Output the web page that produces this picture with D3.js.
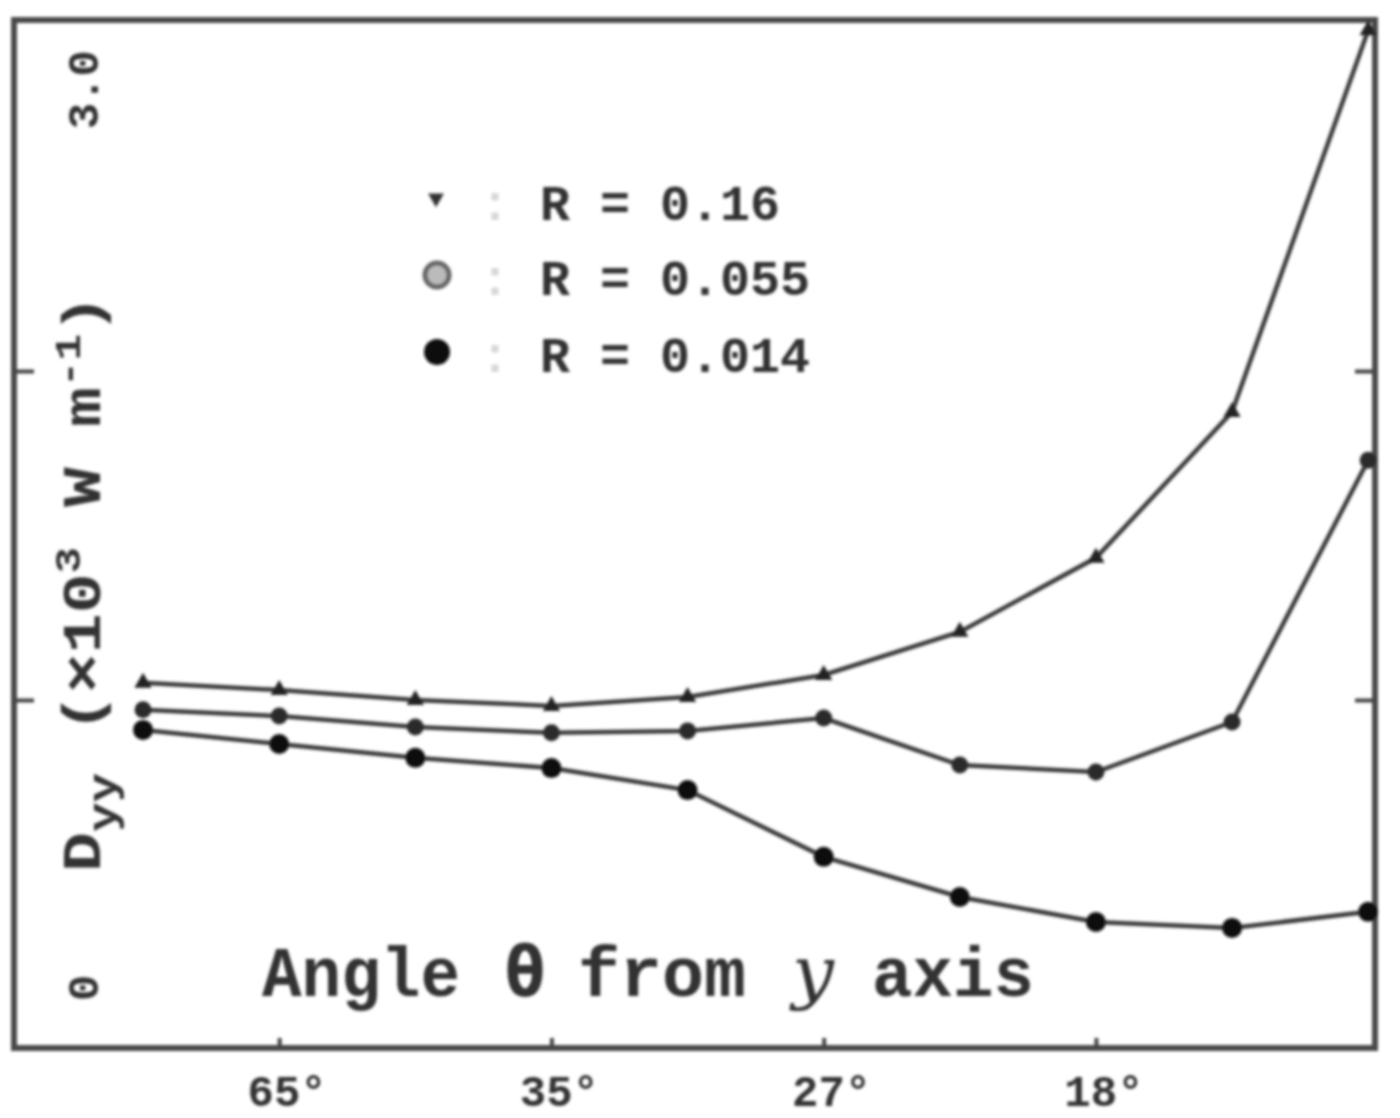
<!DOCTYPE html>
<html><head><meta charset="utf-8">
<script src="https://cdn.jsdelivr.net/npm/d3@7"></script>
<style>body{margin:0;background:#fff}</style>
</head><body>
<svg id="c" width="1400" height="1118"></svg>
<script>
// ---- data ----
const pointIndex = [0,1,2,3,4,5,6,7,8,9];
const angleTickIndex = [1,3,5,7];
const angleTickLabels = ["65°","35°","27°","18°"];
const yTickValues = [0,1,2,3];
const yTickLabels = ["0","","","3.0"];
const seriesR016  = [1.052,1.030,1.000,0.982,1.009,1.076,1.207,1.432,1.875,3.036];
const seriesR0055 = [0.970,0.951,0.918,0.900,0.906,0.945,0.802,0.781,0.933,1.729];
const seriesR0014 = [0.909,0.866,0.824,0.793,0.726,0.523,0.401,0.325,0.307,0.356];
const legendLabels = ["R = 0.16","R = 0.055","R = 0.014"];
const xAxisTitleWords = ["Angle","θ","from","y","axis"];

const svg = d3.select("#c");
const defs = svg.append("defs");
defs.append("filter").attr("id","blur").append("feGaussianBlur").attr("stdDeviation",1.6);
const g = svg.append("g").attr("filter","url(#blur)");

const L=14, R=1375, T=20, B=1048;
const x = d3.scaleLinear().domain([-0.948, 9.05]).range([L, R]);
const y = d3.scaleLinear().domain([-0.058, 3.067]).range([B, T]);

const ink = "#333";
const mono = "'Liberation Mono', 'DejaVu Sans Mono', monospace";

// frame
g.append("rect").attr("x",L).attr("y",T).attr("width",R-L).attr("height",B-T)
  .attr("fill","none").attr("stroke","#4a4a4a").attr("stroke-width",6);

// y ticks (inward) left & right
const yl = g.append("g").attr("transform",`translate(${L},0)`)
  .call(d3.axisRight(y).tickValues([1,2]).tickSize(20).tickFormat(""));
const yr = g.append("g").attr("transform",`translate(${R},0)`)
  .call(d3.axisLeft(y).tickValues([1,2]).tickSize(20).tickFormat(""));
// x ticks (inward) bottom
const xb = g.append("g").attr("transform",`translate(0,${B})`)
  .call(d3.axisTop(x).tickValues(angleTickIndex).tickSize(10).tickFormat(""));
[yl,yr,xb].forEach(a=>{a.select(".domain").remove();a.selectAll("line").attr("stroke","#444").attr("stroke-width",4);});

// x tick labels
g.selectAll("text.xt").data(angleTickIndex).enter().append("text")
  .attr("x",d=>x(d)+8).attr("y",1106).attr("text-anchor","middle")
  .attr("font-family",mono).attr("font-weight","bold").attr("font-size",44).attr("fill",ink)
  .text((d,i)=>angleTickLabels[i]);

// y tick labels (rotated)
yTickValues.forEach((v,i)=>{
  if(!yTickLabels[i]) return;
  g.append("text").attr("transform",`translate(98,${v===0? y(v)-28 : y(v)+8})rotate(-90)`)
    .attr("text-anchor", v===0 ? "start" : "end")
    .attr("font-family",mono).attr("font-weight","bold").attr("font-size",44).attr("fill",ink)
    .text(yTickLabels[i]);
});

// y axis title (rotated)
const yt = g.append("text").attr("transform","translate(100,872)rotate(-90)")
  .attr("font-family",mono).attr("font-weight","bold").attr("font-size",54).attr("fill",ink);
yt.append("tspan").text("D");
yt.append("tspan").attr("dy",16).attr("font-size",40).text("yy");
yt.append("tspan").attr("dy",-16).text(" (×10");
yt.append("tspan").attr("dy",-20).attr("font-size",36).text("3");
yt.append("tspan").attr("dy",20).text(" W m");
yt.append("tspan").attr("dy",-20).attr("font-size",36).text("-1");
yt.append("tspan").attr("dy",20).text(")");
yt.attr("textLength",578).attr("lengthAdjust","spacingAndGlyphs");

// x axis title (inside plot), one word per text
const wordPos = [[262,198],[505,40],[578,168],[792,42],[872,162]];
xAxisTitleWords.forEach((w,i)=>{
  const t = g.append("text").attr("x",wordPos[i][0]).attr("y",996)
    .attr("font-size",70).attr("fill",ink)
    .attr("textLength",wordPos[i][1]).attr("lengthAdjust","spacingAndGlyphs")
    .text(w);
  if(w==="y") t.attr("font-family","'DejaVu Serif', serif").attr("font-style","italic");
  else if(w==="θ") t.attr("font-family","'DejaVu Sans', sans-serif").attr("font-weight","bold");
  else t.attr("font-family",mono).attr("font-weight","bold");
});

// series
const series = [
  {vals:seriesR016, shape:"tri"},
  {vals:seriesR0055, shape:"circ"},
  {vals:seriesR0014, shape:"dot"}
];
const line = d3.line().x((d,i)=>x(pointIndex[i])).y(d=>y(d));
series.forEach(s=>{
  g.append("path").datum(s.vals).attr("d",line).attr("fill","none")
    .attr("stroke","#3a3a3a").attr("stroke-width",4.5);
});
series.forEach(s=>{
  const pts = s.vals.map((v,i)=>[x(pointIndex[i]), y(v)]);
  if(s.shape==="tri"){
    g.selectAll(null).data(pts).enter().append("path")
      .attr("d",d3.symbol().type(d3.symbolTriangle).size(130))
      .attr("transform",d=>`translate(${d[0]},${d[1]})`).attr("fill","#222");
  } else {
    g.selectAll(null).data(pts).enter().append("circle")
      .attr("cx",d=>d[0]).attr("cy",d=>d[1]).attr("r", s.shape==="dot"?10:8.5)
      .attr("fill", s.shape==="dot"?"#111":"#2a2a2a");
  }
});

// legend
const legBase = [220, 295, 372];
legendLabels.forEach((lab,i)=>{
  const cy = legBase[i]-20;
  if(i===0){
    g.append("path").attr("d",d3.symbol().type(d3.symbolTriangle).size(110))
      .attr("transform",`translate(436,${cy-2})rotate(180)`).attr("fill","#333");
  } else if(i===1){
    g.append("circle").attr("cx",437).attr("cy",cy).attr("r",12)
      .attr("fill","#bbb").attr("stroke","#666").attr("stroke-width",5);
  } else {
    g.append("circle").attr("cx",437).attr("cy",cy).attr("r",13).attr("fill","#111");
  }
  const t = g.append("text").attr("x",450).attr("y",legBase[i]).attr("xml:space","preserve")
    .attr("font-family",mono).attr("font-weight","bold").attr("font-size",50).attr("fill",ink);
  t.append("tspan").attr("fill","#d8d8d8").text(" : ");
  t.append("tspan").text(lab);
});
</script>
</body></html>
